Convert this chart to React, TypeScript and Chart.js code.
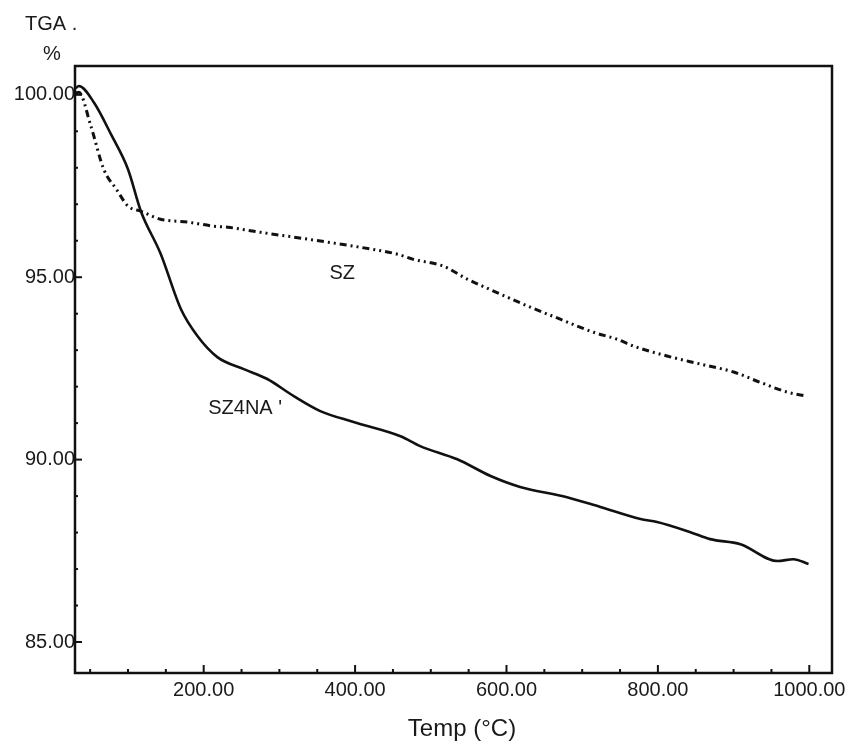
import React, { useEffect, useRef } from "react";
import { Chart, registerables } from "chart.js";

Chart.register(...registerables);

// ---- data ----
const sz4naTemp = [31, 35, 55, 78, 100, 117, 143, 170, 192, 218, 253, 284, 319, 354, 398, 460, 486, 535, 579, 618, 680, 724, 777, 799, 843, 869, 909, 958, 979, 999];
const sz4naMass = [100.18, 100.24, 99.79, 98.9, 97.96, 96.81, 95.65, 94.12, 93.38, 92.81, 92.48, 92.21, 91.74, 91.33, 91.03, 90.64, 90.37, 90.01, 89.55, 89.25, 88.97, 88.7, 88.37, 88.29, 88.01, 87.82, 87.68, 87.22, 87.27, 87.14];

const szTemp = [31, 35, 51, 68, 85, 100, 117, 143, 179, 213, 232, 275, 319, 364, 407, 456, 477, 517, 548, 583, 628, 671, 715, 746, 768, 812, 856, 900, 935, 971, 997];
const szMass = [100.05, 100.07, 99.14, 97.96, 97.4, 96.95, 96.81, 96.59, 96.51, 96.4, 96.37, 96.23, 96.1, 95.96, 95.82, 95.63, 95.49, 95.3, 94.95, 94.62, 94.21, 93.85, 93.49, 93.3, 93.11, 92.84, 92.62, 92.4, 92.12, 91.85, 91.74];

const xTickValues = [200, 400, 600, 800, 1000];
const yTickValues = [85, 90, 95, 100];
const xMinorStep = 50;
const yMinorStep = 1;

const seriesLabels = ["SZ4NA '", "SZ"];
const yAxisTitle = ["TGA .", "%"];
const xAxisTitle = "Temp (°C)";

const FONT = '"Liberation Sans", Arial, sans-serif';
const INK = "#1a1a1a";

const framePlugin = {
  id: "tgaFrame",
  afterDatasetsDraw(chart: any) {
    const { ctx, chartArea } = chart;
    const xs = chart.scales.x;
    const ys = chart.scales.y;
    const { left, right, top, bottom } = chartArea;
    ctx.save();
    // frame
    ctx.strokeStyle = "#111";
    ctx.lineWidth = 2.5;
    ctx.strokeRect(left, top, right - left, bottom - top);

    // inward ticks on x axis
    ctx.lineWidth = 2;
    for (let v = xMinorStep; v <= 1000; v += xMinorStep) {
      const px = xs.getPixelForValue(v);
      if (px <= left + 1 || px >= right - 1) continue;
      const major = v % 200 === 0;
      ctx.beginPath();
      ctx.moveTo(px, bottom);
      ctx.lineTo(px, bottom - (major ? 8 : 4));
      ctx.stroke();
    }
    // inward ticks on y axis
    for (let v = 85; v <= 100; v += yMinorStep) {
      const py = ys.getPixelForValue(v);
      const major = v % 5 === 0;
      ctx.beginPath();
      ctx.moveTo(left, py);
      ctx.lineTo(left + (major ? 7 : 3), py);
      ctx.stroke();
    }

    // series labels placed in data coordinates
    ctx.fillStyle = INK;
    ctx.font = `20px ${FONT}`;
    ctx.textAlign = "center";
    ctx.textBaseline = "middle";
    ctx.fillText(seriesLabels[1], xs.getPixelForValue(383), ys.getPixelForValue(95.1));
    ctx.textAlign = "left";
    ctx.fillText(seriesLabels[0], xs.getPixelForValue(206), ys.getPixelForValue(91.4));

    // y axis title
    ctx.textAlign = "left";
    ctx.textBaseline = "alphabetic";
    ctx.font = `20px ${FONT}`;
    ctx.fillText(yAxisTitle[0], 25, 30);
    ctx.textAlign = "center";
    ctx.fillText(yAxisTitle[1], 52, 60);

    // x axis title
    ctx.font = `24px ${FONT}`;
    ctx.textAlign = "center";
    ctx.textBaseline = "alphabetic";
    ctx.fillText(xAxisTitle, 462, 736);
    ctx.restore();
  },
};

export default function App() {
  const canvasRef = useRef<HTMLCanvasElement | null>(null);

  useEffect(() => {
    const canvas = canvasRef.current;
    if (!canvas) return;
    const chart = new Chart(canvas, {
      type: "line",
      data: {
        datasets: [
          {
            label: "SZ4NA",
            data: sz4naTemp.map((t, i) => ({ x: t, y: sz4naMass[i] })),
            borderColor: "#111",
            borderWidth: 2.6,
            pointRadius: 0,
            cubicInterpolationMode: "monotone",
            fill: false,
          },
          {
            label: "SZ",
            data: szTemp.map((t, i) => ({ x: t, y: szMass[i] })),
            borderColor: "#111",
            borderWidth: 3,
            borderDash: [7, 4, 2, 4, 2, 4],
            borderCapStyle: "butt",
            pointRadius: 0,
            cubicInterpolationMode: "monotone",
            fill: false,
          },
        ],
      },
      options: {
        responsive: false,
        animation: false,
        layout: { padding: { top: 66, right: 18, left: 0, bottom: 0 } },
        plugins: { legend: { display: false }, tooltip: { enabled: false } },
        scales: {
          x: {
            type: "linear",
            min: 30,
            max: 1030,
            afterBuildTicks: (s: any) => {
              s.ticks = xTickValues.map((v) => ({ value: v }));
            },
            afterFit: (s: any) => {
              s.height = 71;
              s.paddingLeft = 0;
              s.paddingRight = 0;
            },
            grid: { display: false, drawTicks: false },
            border: { display: false },
            ticks: {
              padding: 5,
              color: INK,
              font: { family: FONT, size: 20 },
              maxRotation: 0,
              autoSkip: false,
              callback: (v: any) => Number(v).toFixed(2),
            },
          },
          y: {
            type: "linear",
            min: 84.15,
            max: 100.79,
            afterBuildTicks: (s: any) => {
              s.ticks = yTickValues.map((v) => ({ value: v }));
            },
            afterFit: (s: any) => {
              s.width = 75;
              s.paddingTop = 0;
              s.paddingBottom = 0;
            },
            grid: { display: false, drawTicks: false },
            border: { display: false },
            ticks: {
              padding: 0,
              color: INK,
              font: { family: FONT, size: 20 },
              autoSkip: false,
              callback: (v: any) => Number(v).toFixed(2),
            },
          },
        },
      } as any,
      plugins: [framePlugin],
    });
    return () => chart.destroy();
  }, []);

  return (
    <div style={{ position: "absolute", left: 0, top: 0, width: 850, height: 744, background: "#fff" }}>
      <canvas ref={canvasRef} width={850} height={744} />
    </div>
  );
}
